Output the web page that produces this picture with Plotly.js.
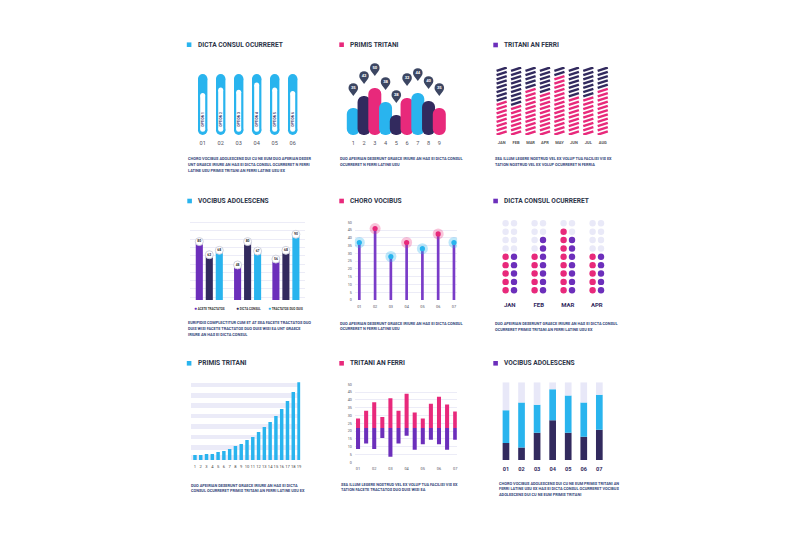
<!DOCTYPE html>
<html><head><meta charset="utf-8">
<script src="https://cdn.plot.ly/plotly-3.0.1.min.js"></script>
<style>html,body{margin:0;padding:0;background:#fff;}#chart{width:800px;height:533px;}</style>
</head><body><div id="chart"></div>
<script>
// ================= DATA =================
const titles = ['DICTA CONSUL OCURRERET','PRIMIS TRITANI','TRITANI AN FERRI','VOCIBUS ADOLESCENS','CHORO VOCIBUS','DICTA CONSUL OCURRERET','PRIMIS TRITANI','TRITANI AN FERRI','VOCIBUS ADOLESCENS'];
const descriptions = [
  ['CHORO VOCIBUS ADOLESCENS DUI CU NE EUM DUO APERIAN DESER','UNT GRAECE IRIURE AN HAS EI DICTA CONSUL OCURRERET N FERRI','LATINE USU PRIMIS TRITANI AN FERRI LATINE USU EX'],
  ['DUO APEIRIAN DESERUNT GRAECE IRIURE AN HAS EI DICTA CONSUL','OCURRERET N FERRI LATINE USU'],
  ['SEA ILLUM LEGERE NOSTRUD VEL EX VOLUP TUA FACILISI VIS EX','TATION NOSTRUD VEL EX VOLUP OCURRERET N FERRIA'],
  ['EURIPIDIS COMPLECTITUR CUM ET AT SEA FACETE TRACTATOS DUO','DUIS WISI FACETE TRACTATOS DUO DUIS WISI EA UNT GRAECE','IRIURE AN HAS EI DICTA CONSUL'],
  ['DUO APEIRIAN DESERUNT GRAECE IRIURE AN HAS EI DICTA CONSUL','OCURRERET N FERRI LATINE USU'],
  ['DUO APEIRIAN DESERUNT GRAECE IRIURE AN HAS EI DICTA CONSUL','OCURRERET PRIMIS TRITANI AN FERRI LATINE USU EX'],
  ['DUO APEIRIAN DESERUNT GRAECE IRIURE AN HAS EI DICTA','CONSUL OCURRERET PRIMIS TRITANI AN FERRI LATINE USU EX'],
  ['SEA ILLUM LEGERE NOSTRUD VEL EX VOLUP TUA FACILISI VIS EX','TATION FACETE TRACTATOS DUO DUIS WISI EA'],
  ['CHORO VOCIBUS ADOLESCENS DUI CU NE EUM PRIMIS TRITANI AN','FERRI LATINE USU EX HAS EI DICTA CONSUL OCURRERET VOCIBUS','ADOLESCENS DUI CU NE EUM PRIMIS TRITANI']
];
// Panel 1 – capsules
const p1Ticks = ['01','02','03','04','05','06'];
const p1Options = ['OPTION 1','OPTION 2','OPTION 3','OPTION 4','OPTION 5','OPTION 6'];
const p1Levels = [69, 78, 74, 86, 78, 72];
// Panel 2 – rounded bars with pins
const p2Ticks = ['1','2','3','4','5','6','7','8','9'];
const p2Heights = [27, 39, 47, 33, 20, 37, 42, 34, 27];
const p2Labels = ['35','42','50','38','28','32','44','40','35'];
// Panel 3 – dash columns
const p3Months = ['JAN','FEB','MAR','APR','MAY','JUN','JUL','AUG'];
const p3Pink = [8, 7, 11, 10, 14, 9, 9, 11];
const p3Total = 16;
// Panel 4 – grouped bars
const p4Series = ['ACETE TRACTATOS','DICTA CONSUL','TRACTATOS DUO DUIS'];
const p4Acete = [80, 48, 56];
const p4Dicta = [62, 80, 68];
const p4Tract = [68, 67, 90];
// Panel 5 – lollipops
const p5Ticks = ['01','02','03','04','05','06','07'];
const p5Values = [37, 46, 28, 37, 33, 42.5, 37];
// Panel 6 – dot columns
const p6Months = ['JAN','FEB','MAR','APR'];
const p6Pink = [5, 5, 8, 5];
const p6Purple = [5, 7, 7, 5];
const p6Rows = 9;
// Panel 7 – growth bars
const p7Ticks = ['1','2','3','4','5','6','7','8','9','10','11','12','13','14','15','16','17','18','19'];
const p7Values = [5, 5, 6, 6, 8, 9, 11, 14, 16, 20, 23, 28, 33, 38, 44, 51, 59, 68, 78];
// Panel 8 – floating bars
const p8Ticks = ['01','02','03','04','05','06','07'];
const p8Base = 22;
const p8Tops = [28, 33, 38.5, 29, 41, 33, 44, 32, 28, 37.5, 42, 37, 32.5];
const p8Bottoms = [8.5, 12, 8.5, 15.5, 3.5, 12, 17, 8, 11.5, 14.5, 11.5, 8, 14.5];
// Panel 9 – stacked 100% bars
const p9Ticks = ['01','02','03','04','05','06','07'];
const p9Navy = [22, 16, 35, 51, 35, 30, 39];
const p9Cyan = [42, 58, 36, 40, 48, 44, 45];
const p9Total = 100;

// ================= STYLE =================
const W = 800, H = 533;
const CYAN = '#29b4ee', NAVY = '#322a5e', PINK = '#e8297b', PURPLE = '#6c2fbb', LAV = '#ebebf8', PIN = '#3c4662';
const TXT = '#2d3448', DESC = '#34467a', TICK = '#55555f';
const FONT = 'Roboto, Arial, sans-serif';
const xd = (a, b) => [a / W, b / W];
const yd = (t, b) => [1 - b / H, 1 - t / H];
const base = {showgrid: false, zeroline: false, showline: false, ticks: '', showticklabels: false, fixedrange: true, tickangle: 0};
const layout = {width: W, height: H, margin: {l: 0, r: 0, t: 0, b: 0}, paper_bgcolor: '#fff', plot_bgcolor: 'rgba(0,0,0,0)',
  showlegend: false, barmode: 'overlay', font: {family: FONT}, annotations: [], shapes: []};
function axes(n, xdom, ydom, xo, yo) {
  const s = n === 1 ? '' : n;
  layout['xaxis' + s] = Object.assign({}, base, {domain: xd(xdom[0], xdom[1]), anchor: 'y' + s}, xo);
  layout['yaxis' + s] = Object.assign({}, base, {domain: yd(ydom[0], ydom[1]), anchor: 'x' + s}, yo);
}
const ref = n => n === 1 ? {xaxis: 'x', yaxis: 'y'} : {xaxis: 'x' + n, yaxis: 'y' + n};
const tickFont = (s, c, w) => ({family: FONT, size: s, color: c || TICK, weight: w || 400});
const traces = [];

// headers
const heads = [
  {sq: 186.8, tx: 195.5, y: 44.7, c: CYAN}, {sq: 339.3, tx: 347.5, y: 44.7, c: PINK}, {sq: 493.3, tx: 501.7, y: 45, c: PURPLE},
  {sq: 187.3, tx: 196, y: 201, c: CYAN}, {sq: 339.3, tx: 347.5, y: 201, c: PINK}, {sq: 493.3, tx: 502, y: 201, c: PURPLE},
  {sq: 186.8, tx: 195.5, y: 363.3, c: CYAN}, {sq: 339.3, tx: 347.5, y: 363.3, c: PINK}, {sq: 493.3, tx: 502, y: 363.3, c: PURPLE}
];
const descPos = [
  {x: 186, y: [158.3, 164.3, 170]}, {x: 338.3, y: [158.3, 164.3]}, {x: 493.3, y: [158.3, 164.3]},
  {x: 186, y: [322.7, 328.3, 334]}, {x: 338.3, y: [323.3, 328.7]}, {x: 493.3, y: [323.3, 329]},
  {x: 189.3, y: [485, 490.5]}, {x: 339.3, y: [484, 489.5]}, {x: 496.7, y: [483.3, 488.8, 494.3]}
];
heads.forEach((h, i) => {
  layout.shapes.push({type: 'rect', xref: 'paper', yref: 'paper', x0: h.sq / W, x1: (h.sq + 4.6) / W,
    y0: 1 - (h.y + 2.3) / H, y1: 1 - (h.y - 2.3) / H, fillcolor: h.c, line: {width: 0}});
  layout.annotations.push({xref: 'paper', yref: 'paper', x: h.tx / W, y: 1 - h.y / H, xanchor: 'left', yanchor: 'middle',
    showarrow: false, text: titles[i], font: {family: FONT, size: 6.6, color: TXT, weight: 700}});
  descriptions[i].forEach((line, j) => layout.annotations.push({xref: 'paper', yref: 'paper', x: descPos[i].x / W,
    y: 1 - descPos[i].y[j] / H, xanchor: 'left', yanchor: 'middle', showarrow: false, text: line,
    font: {family: FONT, size: 3.9, color: DESC, weight: 700}}));
});

// ---------- Panel 1 ----------
axes(1, [191.9, 303.5], [74, 135],
  {range: [-0.6, 5.6], showticklabels: true, tickvals: p1Ticks.map((t, i) => i), ticktext: p1Ticks, tickfont: tickFont(5.6), ticklabelstandoff: 3},
  {range: [0, 100]});
{
  const ox = [], oy = [], ix = [], iy = [];
  p1Levels.forEach((v, i) => { ox.push(i, i, null); oy.push(7.7, 92.3, null); ix.push(i, i, null); iy.push(9.5, v - 4.1, null); });
  traces.push(Object.assign({type: 'scatter', mode: 'lines+markers', x: ox, y: oy, line: {color: CYAN, width: 9.4}, marker: {size: 9.4, color: CYAN}, hoverinfo: 'skip'}, ref(1)));
  traces.push(Object.assign({type: 'scatter', mode: 'lines+markers', x: ix, y: iy, line: {color: '#fff', width: 5}, marker: {size: 5, color: '#fff'}, hoverinfo: 'skip'}, ref(1)));
  p1Options.forEach((t, i) => layout.annotations.push({xref: 'x', yref: 'y', x: i, y: 26, text: t, textangle: -90, showarrow: false,
    font: {family: FONT, size: 3.3, color: NAVY, weight: 700}}));
}

// ---------- Panel 2 ----------
axes(2, [344.7, 447.9], [55, 135],
  {range: [0.2, 9.8], showticklabels: true, tickvals: p2Ticks.map((t, i) => i + 1), ticktext: p2Ticks, tickfont: tickFont(5.6), ticklabelstandoff: 3},
  {range: [0, 80]});
{
  const cyc = [CYAN, NAVY, PINK];
  const xs = p2Heights.map((v, i) => i + 1);
  traces.push(Object.assign({type: 'bar', x: xs, y: p2Heights, base: 0, width: 1.21, offset: -0.605, marker: {color: xs.map((x, i) => cyc[i % 3]), cornerradius: '50%', line: {width: 0}}, hoverinfo: 'skip'}, ref(2)));
  traces.push(Object.assign({type: 'scatter', mode: 'markers', x: xs, y: p2Heights.map(v => v + 14.8), marker: {symbol: 'triangle-down', size: 5.5, color: PIN}, hoverinfo: 'skip'}, ref(2)));
  traces.push(Object.assign({type: 'scatter', mode: 'markers+text', x: xs, y: p2Heights.map(v => v + 20), text: p2Labels, textposition: 'middle center',
    textfont: {family: FONT, size: 4.2, color: '#fff', weight: 700}, marker: {size: 9.6, color: PIN}, hoverinfo: 'skip'}, ref(2)));
}

// ---------- Panel 3 ----------
axes(3, [493, 611.4], [67.1, 135.1],
  {range: [-0.6, 7.6], showticklabels: true, tickvals: p3Months.map((m, i) => i), ticktext: p3Months, tickfont: tickFont(4, '#555', 700), ticklabelstandoff: 4},
  {range: [0.5, 16.5]});
{
  const px = [], py = [], nx = [], ny = [];
  p3Pink.forEach((p, m) => { for (let r = 1; r <= p3Total; r++) { if (r <= p) { px.push(m); py.push(r); } else { nx.push(m); ny.push(r); } } });
  const mk = c => ({symbol: 'line-ew', size: 7.6, angle: -18, line: {width: 2.5, color: c}});
  traces.push(Object.assign({type: 'scatter', mode: 'markers', x: px, y: py, marker: mk(PINK), hoverinfo: 'skip'}, ref(3)));
  traces.push(Object.assign({type: 'scatter', mode: 'markers', x: nx, y: ny, marker: mk(NAVY), hoverinfo: 'skip'}, ref(3)));
}

// ---------- Panel 4 ----------
axes(4, [190.15, 305.05], [218, 300],
  {range: [-0.5, 2.5]},
  {range: [0, 112.3], showgrid: true, gridcolor: '#ececf7', gridwidth: 1, tick0: 3.7, dtick: 11.4});
{
  const sets = [p4Acete, p4Dicta, p4Tract], cols = [PURPLE, NAVY, CYAN];
  sets.forEach((vals, k) => {
    const xs = vals.map((v, i) => i);
    const off = (k - 1) * 0.261;
    traces.push(Object.assign({type: 'bar', x: xs, y: vals, base: 0, width: 0.185, offset: off - 0.0925, marker: {color: cols[k], line: {width: 0}}, hoverinfo: 'skip'}, ref(4)));
  });
  sets.forEach((vals, k) => {
    const off = (k - 1) * 0.261;
    traces.push(Object.assign({type: 'scatter', mode: 'markers+text', x: vals.map((v, i) => i + off), y: vals, text: vals.map(String), textposition: 'middle center',
      textfont: {family: FONT, size: 3.4, color: '#333', weight: 700}, marker: {size: 8, color: '#fff', line: {color: '#c9ccda', width: 0.9}}, hoverinfo: 'skip'}, ref(4)));
  });
  const lx = [192, 233.5, 265.5], lc = [PURPLE, NAVY, CYAN];
  p4Series.forEach((s, k) => layout.annotations.push({xref: 'paper', yref: 'paper', x: lx[k] / W, y: 1 - 307.7 / H, xanchor: 'left', yanchor: 'middle', showarrow: false,
    text: '<span style="color:' + lc[k] + ';font-size:5px">●</span> ' + s, font: {family: FONT, size: 3, color: '#333', weight: 700}}));
}

// ---------- Panel 5 ----------
axes(5, [354.9, 457.1], [222.3, 300],
  {range: [0.72, 7.2], showticklabels: true, tickvals: p5Ticks.map((t, i) => i + 1), ticktext: p5Ticks, tickfont: tickFont(3.9), ticklabelstandoff: 3},
  {range: [0, 50], showgrid: true, gridcolor: '#ececf7', gridwidth: 1, dtick: 5, showticklabels: true, tickfont: tickFont(3.7), ticklabelstandoff: 2});
{
  const xs = p5Values.map((v, i) => i + 1);
  const isPink = xs.map((x, i) => i % 2 === 1);
  traces.push(Object.assign({type: 'bar', x: xs, y: p5Values, base: 0, width: 0.17, offset: -0.085, marker: {color: '#7a3cc8', line: {width: 0}}, hoverinfo: 'skip'}, ref(5)));
  traces.push(Object.assign({type: 'scatter', mode: 'markers', x: xs, y: p5Values, marker: {size: 11, color: isPink.map(p => p ? 'rgba(232,41,123,0.28)' : 'rgba(41,180,238,0.3)')}, hoverinfo: 'skip'}, ref(5)));
  traces.push(Object.assign({type: 'scatter', mode: 'markers', x: xs, y: p5Values, marker: {size: 5.2, color: isPink.map(p => p ? PINK : CYAN)}, hoverinfo: 'skip'}, ref(5)));
}

// ---------- Panel 6 ----------
axes(6, [492.4, 614.2], [218.3, 295.3],
  {range: [-0.6, 3.6], showticklabels: true, tickvals: p6Months.map((m, i) => i), ticktext: p6Months, tickfont: tickFont(6, NAVY, 700), ticklabelstandoff: 5},
  {range: [0.4, 9.6]});
{
  const ex = [], ey = [], kx = [], ky = [], ux = [], uy = [];
  p6Months.forEach((m, i) => {
    for (let r = 1; r <= p6Rows; r++) {
      if (r <= p6Pink[i]) { kx.push(i - 0.145); ky.push(r); } else { ex.push(i - 0.145); ey.push(r); }
      if (r <= p6Purple[i]) { ux.push(i + 0.145); uy.push(r); } else { ex.push(i + 0.145); ey.push(r); }
    }
  });
  traces.push(Object.assign({type: 'scatter', mode: 'markers', x: ex, y: ey, marker: {size: 6.4, color: '#e9e9f8'}, hoverinfo: 'skip'}, ref(6)));
  traces.push(Object.assign({type: 'scatter', mode: 'markers', x: kx, y: ky, marker: {size: 6.4, color: PINK}, hoverinfo: 'skip'}, ref(6)));
  traces.push(Object.assign({type: 'scatter', mode: 'markers', x: ux, y: uy, marker: {size: 6.4, color: PURPLE}, hoverinfo: 'skip'}, ref(6)));
}

// ---------- Panel 7 ----------
axes(7, [191.2, 300.2], [382.3, 460],
  {range: [0.35, 19.2], showticklabels: true, tickvals: p7Ticks.map((t, i) => i + 1), ticktext: p7Ticks, tickfont: tickFont(4.1, '#444'), ticklabelstandoff: 3, tickangle: 0},
  {range: [0, 77.7], showgrid: true, gridcolor: LAV, gridwidth: 4.7, tick0: 2.35, dtick: 10.4});
traces.push(Object.assign({type: 'bar', x: p7Values.map((v, i) => i + 1), y: p7Values, base: 0, width: 0.6, offset: -0.3, marker: {color: CYAN, line: {width: 0}}, hoverinfo: 'skip'}, ref(7)));

// ---------- Panel 8 ----------
axes(8, [354.8, 456.8], [384.3, 462.3],
  {range: [-0.4, 12.2], showticklabels: true, tickvals: p8Ticks.map((t, i) => i * 2), ticktext: p8Ticks, tickfont: tickFont(3.9), ticklabelstandoff: 3},
  {range: [0, 50], showgrid: true, gridcolor: '#ececf7', gridwidth: 1, dtick: 5, showticklabels: true, tickfont: tickFont(3.7), ticklabelstandoff: 2});
{
  const xs = p8Tops.map((v, i) => i);
  traces.push(Object.assign({type: 'bar', x: xs, y: p8Tops.map(v => v - p8Base), base: p8Base, width: 0.5, offset: -0.25, marker: {color: PINK, line: {width: 0}}, hoverinfo: 'skip'}, ref(8)));
  traces.push(Object.assign({type: 'bar', x: xs, y: p8Bottoms.map(v => p8Base - v), base: p8Bottoms, width: 0.5, offset: -0.25, marker: {color: PURPLE, line: {width: 0}}, hoverinfo: 'skip'}, ref(8)));
}

// ---------- Panel 9 ----------
axes(9, [498.2, 607.1], [382.3, 460],
  {range: [0.5, 7.5], showticklabels: true, tickvals: p9Ticks.map((t, i) => i + 1), ticktext: p9Ticks, tickfont: tickFont(5.6, NAVY, 700), ticklabelstandoff: 4},
  {range: [0, 100]});
{
  const xs = p9Navy.map((v, i) => i + 1);
  const mid = p9Navy.map((v, i) => v + p9Cyan[i]);
  traces.push(Object.assign({type: 'bar', x: xs, y: p9Navy, base: 0, width: 0.43, offset: -0.215, marker: {color: NAVY, line: {width: 0}}, hoverinfo: 'skip'}, ref(9)));
  traces.push(Object.assign({type: 'bar', x: xs, y: p9Cyan, base: p9Navy, width: 0.43, offset: -0.215, marker: {color: CYAN, line: {width: 0}}, hoverinfo: 'skip'}, ref(9)));
  traces.push(Object.assign({type: 'bar', x: xs, y: mid.map(v => p9Total - v), base: mid, width: 0.43, offset: -0.215, marker: {color: '#e8e8f8', line: {width: 0}}, hoverinfo: 'skip'}, ref(9)));
}

Plotly.newPlot('chart', traces, layout, {staticPlot: true, displayModeBar: false});
</script>
</body></html>
